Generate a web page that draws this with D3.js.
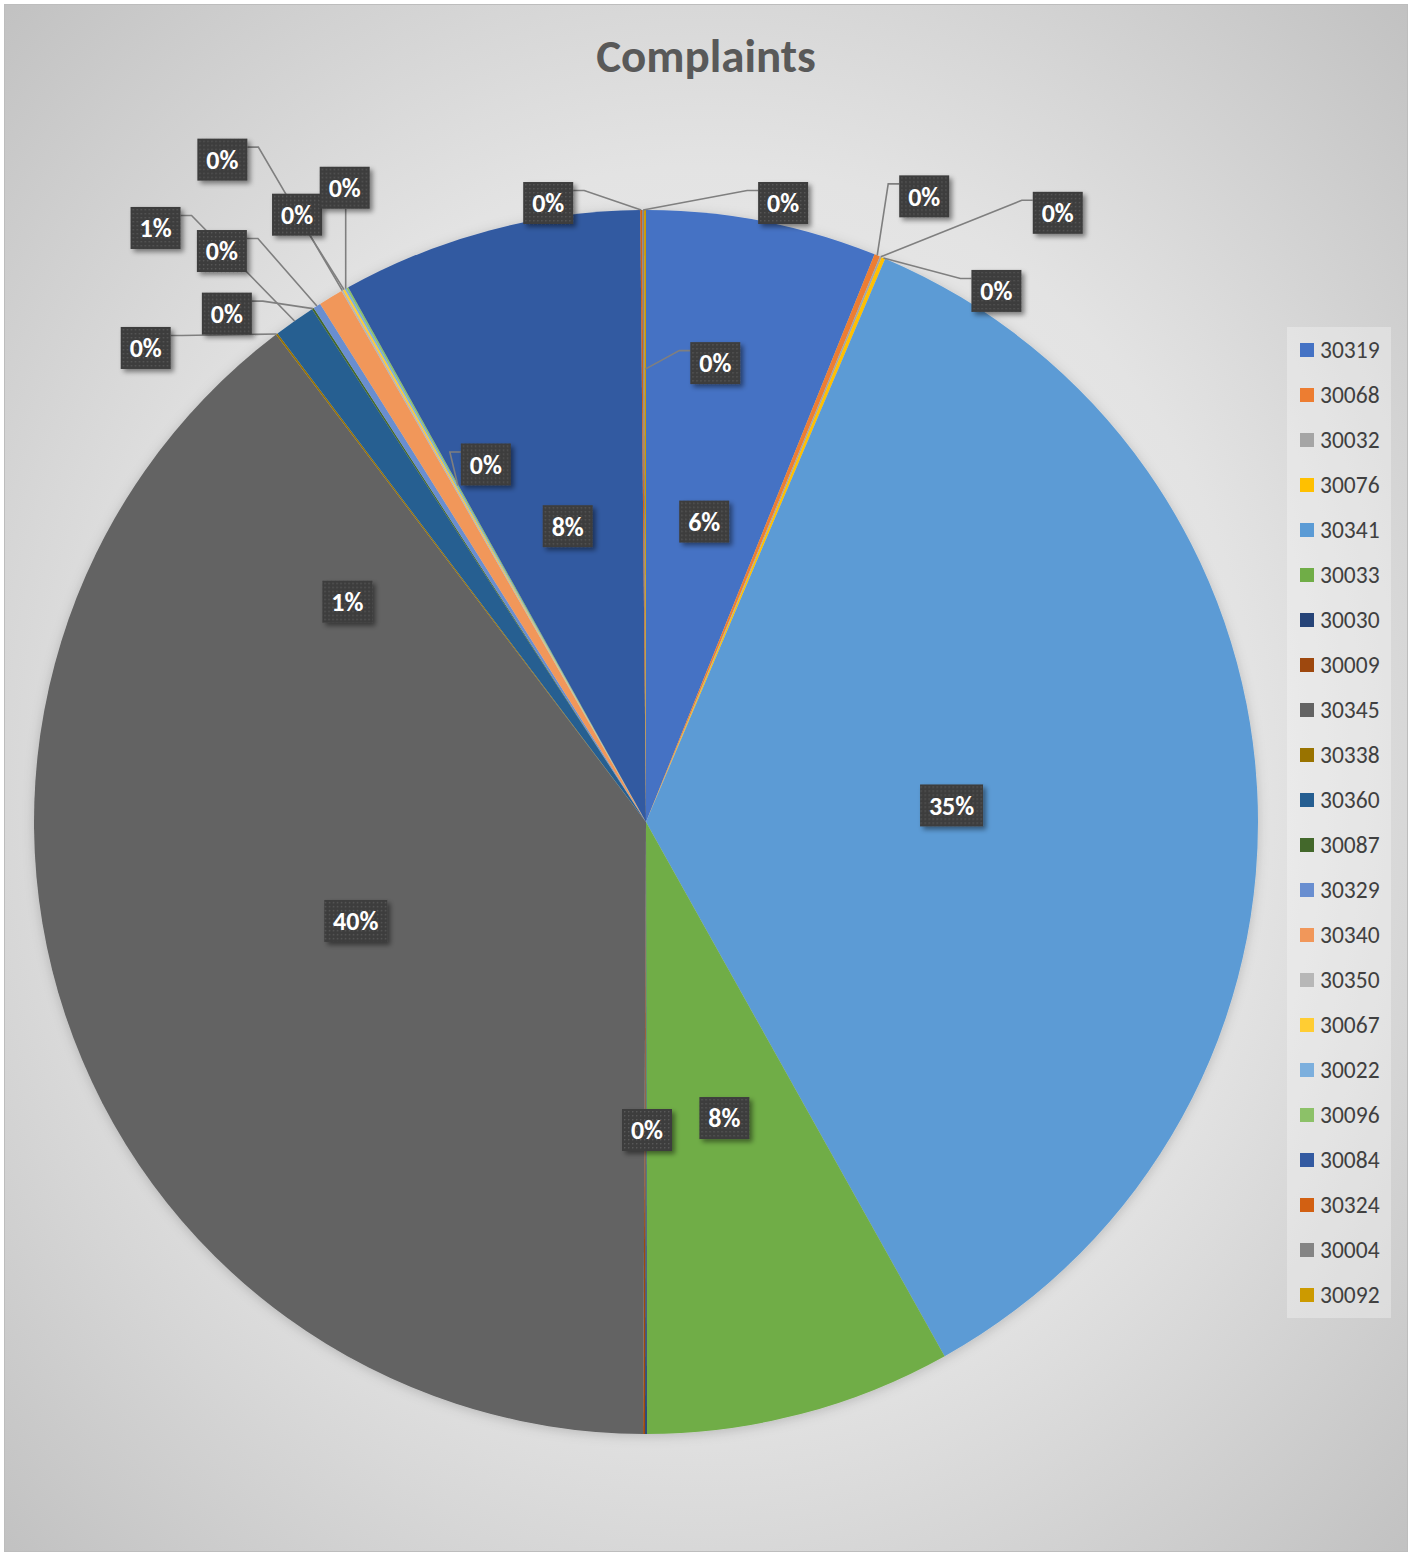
<!DOCTYPE html>
<html>
<head>
<meta charset="utf-8">
<script src="https://cdn.jsdelivr.net/npm/d3@7"></script>
<style>
  body { margin: 0; background: #fff; }
  svg { display: block; font-family: Carlito, Calibri, Lato, "Open Sans", sans-serif; }
</style>
</head>
<body>
<div id="chart"></div>
<script>
// Zip codes, in slice order (clockwise from 12 o'clock)
const categories = ["30319", "30068", "30032", "30076", "30341", "30033", "30030", "30009",
                    "30345", "30338", "30360", "30087", "30329", "30340", "30350", "30067",
                    "30022", "30096", "30084", "30324", "30004", "30092"];

// Complaint counts
const complaints = [122, 3, 1, 2, 711, 162, 1, 1,
                    793, 1, 22, 1, 4, 13, 1, 1,
                    1, 1, 159, 1, 1, 1];

// Excel office palette
const palette = ["#4472C4", "#ED7D31", "#A5A5A5", "#FFC000", "#5B9BD5", "#70AD47", "#264478", "#9E480E",
                 "#636363", "#997300", "#255E91", "#43682B", "#698ED0", "#F1975A", "#B7B7B7", "#FFCD33",
                 "#7CAFDD", "#8CC168", "#335AA1", "#D26012", "#848484", "#CC9A00"];

// Where excel dropped each data label: "in" = offset from the slice centroid,
// "out" = offset from a point on the slice (at anchor * radius) joined by a leader line
const labelPlacement = {
  "30319": { mode: "in", dx: 0, dy: 0 },
  "30068": { mode: "out", anchor: 1, dx: 47, dy: -59 },
  "30032": { mode: "out", anchor: 1, dx: 177, dy: -44 },
  "30076": { mode: "out", anchor: 1, dx: 113, dy: 33 },
  "30341": { mode: "in", dx: 0, dy: 0 },
  "30033": { mode: "in", dx: 1, dy: 0 },
  "30030": { mode: "in", dx: 1, dy: 2 },
  "30345": { mode: "in", dx: 0, dy: 2 },
  "30338": { mode: "out", anchor: 1, dx: -131, dy: 14 },
  "30360": { mode: "out", anchor: 1, dx: -139, dy: -93 },
  "30087": { mode: "out", anchor: 1, dx: -86, dy: 5 },
  "30329": { mode: "out", anchor: 1, dx: -95, dy: -55 },
  "30340": { mode: "in", dx: -141, dy: 42 },
  "30350": { mode: "out", anchor: 1, dx: -120, dy: -131 },
  "30067": { mode: "out", anchor: 1, dx: -47, dy: -75, attach: "bottom" },
  "30022": { mode: "out", anchor: 1, dx: -1, dy: -101, attach: "bottom" },
  "30096": { mode: "out", anchor: 0.63, dx: 28, dy: -21 },
  "30084": { mode: "in", dx: 0, dy: 0 },
  "30324": { mode: "out", anchor: 1, dx: -93, dy: -7 },
  "30004": { mode: "out", anchor: 1, dx: 140, dy: -7 },
  "30092": { mode: "out", anchor: 0.74, dx: 70, dy: -6 }
};

const W = 1416, H = 1553;
const cx = 646, cy = 822, radius = 612;

const data = categories.map((c, i) => ({ key: c, value: complaints[i], color: palette[i] }));
const total = d3.sum(complaints);
const pct = d3.format(".0%");

const svg = d3.select("#chart")
  .append("svg")
    .attr("width", W)
    .attr("height", H);

const defs = svg.append("defs");

// chart area gradient
const grad = defs.append("radialGradient")
    .attr("id", "bg")
    .attr("cx", "50%").attr("cy", "50%").attr("r", "72%");
grad.append("stop").attr("offset", "0%").attr("stop-color", "#f0f0f0");
grad.append("stop").attr("offset", "55%").attr("stop-color", "#e3e3e3");
grad.append("stop").attr("offset", "100%").attr("stop-color", "#c0c0c0");

// dotted fill of the label boxes
const pat = defs.append("pattern")
    .attr("id", "dots")
    .attr("width", 4).attr("height", 4)
    .attr("patternUnits", "userSpaceOnUse");
pat.append("rect").attr("width", 4).attr("height", 4).attr("fill", "#3d3d3d");
pat.append("rect").attr("x", 1).attr("y", 1).attr("width", 1.4).attr("height", 1.4).attr("fill", "#585858");

defs.append("filter")
    .attr("id", "shadow")
    .attr("x", "-30%").attr("y", "-30%").attr("width", "170%").attr("height", "170%")
  .append("feDropShadow")
    .attr("dx", 3).attr("dy", 3).attr("stdDeviation", 2.5)
    .attr("flood-color", "#000").attr("flood-opacity", 0.45);

defs.append("filter")
    .attr("id", "pieShadow")
    .attr("x", "-10%").attr("y", "-10%").attr("width", "120%").attr("height", "120%")
  .append("feDropShadow")
    .attr("dx", 0).attr("dy", 2).attr("stdDeviation", 6)
    .attr("flood-color", "#000").attr("flood-opacity", 0.18);

// background + border
svg.append("rect")
    .attr("x", 4.5).attr("y", 4.5)
    .attr("width", 1403).attr("height", 1547)
    .attr("fill", "url(#bg)")
    .attr("stroke", "#bdbdbd")
    .attr("stroke-width", 1);

// title
svg.append("text")
    .attr("x", 706)
    .attr("y", 72)
    .attr("text-anchor", "middle")
    .attr("font-size", 47)
    .attr("font-weight", "bold")
    .attr("fill", "#595959")
    .text("Complaints");

// pie
const pie = d3.pie()
    .sort(null)
    .value(d => d.value);

const arcs = pie(data);

const arc = d3.arc()
    .innerRadius(0)
    .outerRadius(radius);

const g = svg.append("g")
    .attr("transform", `translate(${cx},${cy})`);

g.append("g")
    .attr("filter", "url(#pieShadow)")
  .selectAll("path")
  .data(arcs)
  .join("path")
    .attr("d", arc)
    .attr("fill", d => d.data.color);

// label positions
const labels = arcs.filter(d => labelPlacement[d.data.key]).map(d => {
  const p = labelPlacement[d.data.key];
  const mid = (d.startAngle + d.endAngle) / 2;
  let base;
  if (p.mode === "in") {
    base = arc.centroid(d);
  } else {
    const r = radius * p.anchor;
    base = [r * Math.sin(mid), -r * Math.cos(mid)];
  }
  return {
    key: d.data.key,
    text: pct(d.data.value / total),
    mode: p.mode,
    attach: p.attach,
    anchor: base,
    x: base[0] + p.dx,
    y: base[1] + p.dy
  };
});

// measure text so the boxes hug it
const tmp = g.append("text").attr("font-size", 26).attr("font-weight", "bold");
labels.forEach(l => {
  tmp.text(l.text);
  l.w = Math.round(tmp.node().getComputedTextLength() + 18);
  l.h = 42;
});
tmp.remove();

// leader lines
g.append("g")
  .selectAll("path")
  .data(labels.filter(l => l.mode === "out"))
  .join("path")
    .attr("fill", "none")
    .attr("stroke", "#7f7f7f")
    .attr("stroke-width", 1.6)
    .attr("d", l => {
      const x0 = l.x - l.w / 2, x1 = l.x + l.w / 2;
      const y0 = l.y - l.h / 2, y1 = l.y + l.h / 2;
      const [ax, ay] = l.anchor;
      if (l.attach === "bottom") {
        const sx = Math.max(x0 + 12, Math.min(x1 - 12, ax));
        return `M${sx},${y1}L${ax},${ay}`;
      }
      const left = ax < l.x;
      const sx = left ? x0 : x1;
      const ex = left ? x0 - 11 : x1 + 11;
      const sy = y0 + 8.5;
      return `M${sx},${sy}L${ex},${sy}L${ax},${ay}`;
    });

// label boxes
const lab = g.append("g")
  .selectAll("g")
  .data(labels)
  .join("g")
    .attr("transform", l => `translate(${l.x},${l.y})`);

lab.append("rect")
    .attr("x", l => -l.w / 2)
    .attr("y", l => -l.h / 2)
    .attr("width", l => l.w)
    .attr("height", l => l.h)
    .attr("fill", "url(#dots)")
    .attr("filter", "url(#shadow)");

lab.append("text")
    .attr("text-anchor", "middle")
    .attr("dy", "0.36em")
    .attr("font-size", 26)
    .attr("font-weight", "bold")
    .attr("fill", "#ffffff")
    .text(l => l.text);

// legend
const ly = d3.scalePoint()
    .domain(categories)
    .range([350, 1295]);

svg.append("rect")
    .attr("x", 1287).attr("y", 327)
    .attr("width", 104).attr("height", 991)
    .attr("fill", "#ffffff")
    .attr("fill-opacity", 0.3);

const legend = svg.append("g")
  .selectAll("g")
  .data(data)
  .join("g")
    .attr("transform", d => `translate(1300,${ly(d.key)})`);

legend.append("rect")
    .attr("y", -7)
    .attr("width", 14)
    .attr("height", 14)
    .attr("fill", d => d.color);

legend.append("text")
    .attr("x", 20)
    .attr("dy", "0.36em")
    .attr("font-size", 23.5)
    .attr("fill", "#404040")
    .text(d => d.key);
</script>
</body>
</html>
